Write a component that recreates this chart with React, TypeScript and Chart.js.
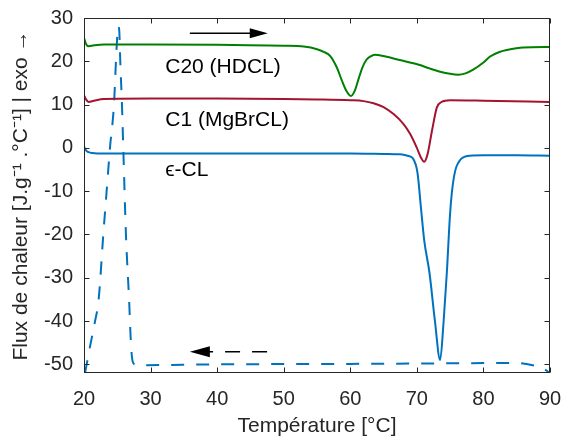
import React, { useEffect, useRef } from "react";
import { Chart, registerables } from "chart.js";

Chart.register(...registerables);

// ---- Data ----
const xTicks = [20, 30, 40, 50, 60, 70, 80, 90];
const yTicks = [-50, -40, -30, -20, -10, 0, 10, 20, 30];

// ε-CL heating (solid blue)
const epsHeatX = [20, 20.3, 20.7, 21.2, 22, 30, 40, 50, 60, 65, 67.5, 68.6, 69.4, 70.1, 70.6, 71.1, 71.9, 72.7, 73.5, 74.0, 74.5, 75.0, 75.5, 76.5, 78, 80, 85, 90];
const epsHeatY = [0.3, -0.6, -1.0, -1.2, -1.3, -1.3, -1.3, -1.3, -1.3, -1.4, -1.5, -1.8, -2.4, -5.8, -13.6, -21.3, -28.9, -39.8, -49.0, -40.5, -28.9, -15.0, -7.4, -2.8, -1.8, -1.7, -1.7, -1.8];

// ε-CL cooling (dashed blue)
const epsCoolX = [20.15, 20.4, 20.8, 21.6, 22.2, 22.9, 23.5, 23.9, 24.5, 24.8, 25.0, 25.15, 25.3, 25.45, 25.7, 25.9, 26.3, 26.8, 27.0, 27.2, 27.5, 28, 40, 60, 85, 87.4, 89, 90];
const epsCoolY = [-52, -50, -46.7, -40.5, -35, -20, -8, 0, 10, 20, 26, 28.1, 27, 20, 10, 0, -20, -36, -43.6, -48.3, -49.9, -50.2, -50.0, -49.9, -49.7, -50.2, -51.0, -52];

// C1 (MgBrCL) heating (red)
const c1X = [20, 20.3, 20.7, 21.5, 23, 30, 40, 50, 55, 60, 62, 63.5, 65, 66.5, 68, 69, 70, 70.6, 71.1, 71.6, 72.3, 73, 73.7, 75, 80, 90];
const c1Y = [12.2, 11.2, 10.6, 10.9, 11.3, 11.4, 11.4, 11.3, 11.2, 11.0, 10.8, 10.3, 9.4, 7.8, 5.5, 3.2, 0, -2.2, -3.2, -1.5, 4.2, 9.3, 10.6, 11.0, 10.9, 10.6];

// C20 (HDCL) heating (green)
const c20X = [20, 20.3, 20.7, 21.5, 23, 30, 40, 50, 53, 55, 56, 57, 58, 58.7, 59.4, 60.1, 60.7, 61.2, 61.8, 62.4, 63, 63.7, 65, 67.4, 70.3, 72, 73.5, 75, 76.2, 77.3, 78.4, 80, 81, 82.3, 83.5, 86, 90];
const c20Y = [25.4, 24.0, 23.5, 23.7, 23.9, 23.9, 23.8, 23.6, 23.4, 22.8, 22.2, 21.2, 18.5, 15.7, 13.2, 12.0, 13.3, 15.7, 18.5, 20.3, 21.1, 21.5, 21.2, 20.3, 19.2, 18.3, 17.6, 17.1, 16.9, 17.2, 18.0, 19.7, 21.1, 22.1, 22.6, 23.2, 23.3];

// Annotations (data coordinates)
const labelTexts = ["C20 (HDCL)", "C1 (MgBrCL)", "\u03F5-CL"];
const labelX = [32.2, 32.2, 32.2];
const labelY = [17.3, 5.1, -6.5];

const heatArrowX = [35.9, 47.6];
const heatArrowY = [26.5, 26.5];
const coolArrowX = [47.5, 35.9];
const coolArrowY = [-47.1, -47.1];

const FONT = '"Liberation Sans", Arial, Helvetica, sans-serif';
const AXIS_COLOR = "#262626";

function pts(xs: number[], ys: number[]) {
  return xs.map((x, i) => ({ x, y: ys[i] }));
}

function zeroPadding(s: any) {
  s.paddingLeft = 0;
  s.paddingRight = 0;
  s.paddingTop = 0;
  s.paddingBottom = 0;
}

const framePlugin = {
  id: "frame",
  afterDatasetsDraw(chart: any) {
    const { ctx, chartArea: a, scales } = chart;
    const xs = scales.x;
    const ys = scales.y;
    ctx.save();

    // annotation texts
    ctx.fillStyle = "#000";
    ctx.font = `21px ${FONT}`;
    ctx.textAlign = "left";
    ctx.textBaseline = "alphabetic";
    labelTexts.forEach((t, i) => {
      ctx.fillText(t, xs.getPixelForValue(labelX[i]), ys.getPixelForValue(labelY[i]));
    });

    const drawHead = (tipX: number, tipY: number, dir: number, len: number, half: number) => {
      ctx.beginPath();
      ctx.moveTo(tipX, tipY);
      ctx.lineTo(tipX - dir * len, tipY - half);
      ctx.lineTo(tipX - dir * len, tipY + half);
      ctx.closePath();
      ctx.fill();
    };
    ctx.strokeStyle = "#000";
    ctx.fillStyle = "#000";
    ctx.lineWidth = 1.5;
    {
      const x0 = xs.getPixelForValue(heatArrowX[0]);
      const x1 = xs.getPixelForValue(heatArrowX[1]);
      const y0 = ys.getPixelForValue(heatArrowY[0]);
      ctx.beginPath();
      ctx.moveTo(x0, y0);
      ctx.lineTo(x1 - 16, y0);
      ctx.stroke();
      drawHead(x1, y0, 1, 18, 5);
    }
    {
      const x0 = xs.getPixelForValue(coolArrowX[0]);
      const x1 = xs.getPixelForValue(coolArrowX[1]);
      const y0 = ys.getPixelForValue(coolArrowY[0]);
      ctx.setLineDash([15, 12]);
      ctx.beginPath();
      ctx.moveTo(x0, y0);
      ctx.lineTo(x1 + 18, y0);
      ctx.stroke();
      ctx.setLineDash([]);
      drawHead(x1, y0, -1, 20, 5.5);
    }

    // box + inward ticks
    ctx.strokeStyle = AXIS_COLOR;
    ctx.lineWidth = 1;
    const L = Math.round(a.left) + 0.5;
    const R = Math.round(a.right) - 0.5;
    const T = Math.round(a.top) + 0.5;
    const B = Math.round(a.bottom) - 0.5;
    ctx.strokeRect(L, T, R - L, B - T);
    const tl = 5;
    ctx.beginPath();
    xTicks.forEach((v) => {
      const p = Math.round(xs.getPixelForValue(v)) + 0.5;
      ctx.moveTo(p, B);
      ctx.lineTo(p, B - tl);
      ctx.moveTo(p, T);
      ctx.lineTo(p, T + tl);
    });
    yTicks.forEach((v) => {
      const p = Math.round(ys.getPixelForValue(v)) + 0.5;
      ctx.moveTo(L, p);
      ctx.lineTo(L + tl, p);
      ctx.moveTo(R, p);
      ctx.lineTo(R - tl, p);
    });
    ctx.stroke();
    ctx.restore();
  },
};

export default function App() {
  const ref = useRef<HTMLCanvasElement | null>(null);

  useEffect(() => {
    if (!ref.current) return;
    const lineBase = {
      pointRadius: 0,
      borderWidth: 2,
      fill: false,
      cubicInterpolationMode: "monotone" as const,
    };
    const chart = new Chart(ref.current, {
      type: "line",
      data: {
        datasets: [
          { ...lineBase, label: "C20 (HDCL)", data: pts(c20X, c20Y), borderColor: "#008000" },
          { ...lineBase, label: "C1 (MgBrCL)", data: pts(c1X, c1Y), borderColor: "#A2142F" },
          { ...lineBase, label: "\u03F5-CL", data: pts(epsHeatX, epsHeatY), borderColor: "#0072BD" },
          {
            ...lineBase,
            label: "\u03F5-CL (refroidissement)",
            data: pts(epsCoolX, epsCoolY),
            borderColor: "#0072BD",
            borderDash: [13, 12],
          },
        ],
      },
      options: {
        animation: false,
        responsive: false,
        parsing: false as any,
        layout: { padding: { top: 18, right: 16, left: 0, bottom: 0 } },
        plugins: { legend: { display: false }, tooltip: { enabled: false } },
        scales: {
          x: {
            type: "linear",
            min: 20,
            max: 90,
            afterBuildTicks: (s: any) => {
              s.ticks = xTicks.map((v) => ({ value: v }));
            },
            afterFit: (s: any) => {
              s.height = 63;
              zeroPadding(s);
            },
            grid: { display: false, drawTicks: false },
            border: { display: false },
            ticks: {
              color: AXIS_COLOR,
              font: { size: 20, family: FONT },
              padding: 14,
              maxRotation: 0,
              autoSkip: false,
            },
            title: {
              display: true,
              text: "Température [°C]",
              color: AXIS_COLOR,
              font: { size: 21, family: FONT },
              padding: { top: 0, bottom: -3 },
            },
          },
          y: {
            type: "linear",
            min: -52,
            max: 30,
            afterBuildTicks: (s: any) => {
              s.ticks = yTicks.map((v) => ({ value: v }));
            },
            afterFit: (s: any) => {
              s.width = 84;
              zeroPadding(s);
            },
            grid: { display: false, drawTicks: false },
            border: { display: false },
            ticks: {
              color: AXIS_COLOR,
              font: { size: 20, family: FONT },
              padding: 11,
              autoSkip: false,
            },
            title: {
              display: true,
              text: "Flux de chaleur [J.g\u207B\u00B9 .°C\u207B\u00B9] | exo \u2192",
              color: AXIS_COLOR,
              font: { size: 21, family: FONT },
              padding: { top: 9, bottom: 0 },
            },
          },
        },
      },
      plugins: [framePlugin],
    });
    return () => chart.destroy();
  }, []);

  return (
    <div style={{ position: "fixed", left: 0, top: 0, width: 566, height: 436, background: "#fff" }}>
      <canvas ref={ref} width={566} height={436} style={{ display: "block" }} />
    </div>
  );
}
